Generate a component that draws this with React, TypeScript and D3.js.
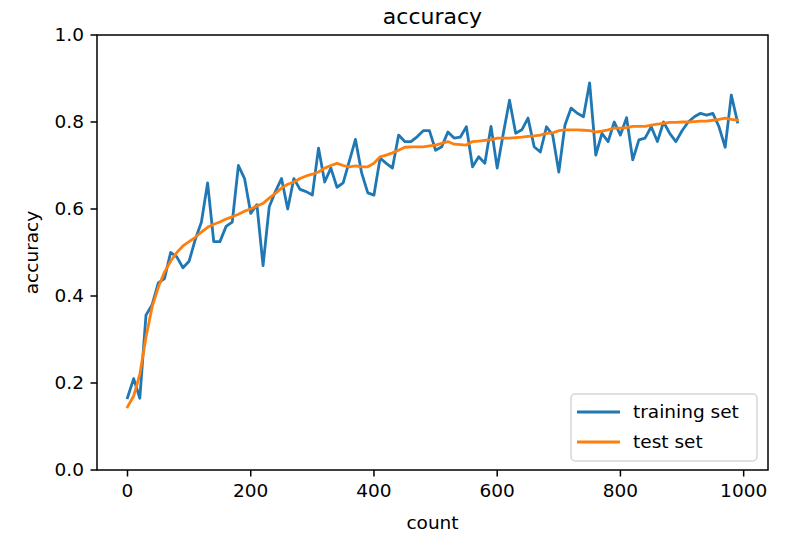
import React from "react";
import * as d3 from "d3";

const counts: number[] = d3.range(0, 1000, 10);

const trainingSet: number[] = [
  0.166, 0.21, 0.165, 0.356, 0.38, 0.43, 0.44, 0.5, 0.49, 0.465,
  0.48, 0.53, 0.57, 0.66, 0.525, 0.525, 0.56, 0.57, 0.7, 0.67,
  0.59, 0.61, 0.47, 0.605, 0.64, 0.67, 0.6, 0.67, 0.645, 0.64,
  0.632, 0.74, 0.662, 0.694, 0.65, 0.66, 0.71, 0.76, 0.683, 0.637,
  0.632, 0.717, 0.705, 0.694, 0.77, 0.755, 0.755, 0.766, 0.78, 0.78,
  0.735, 0.743, 0.777, 0.763, 0.765, 0.789, 0.697, 0.72, 0.705, 0.79,
  0.694, 0.774, 0.85, 0.774, 0.782, 0.809, 0.743, 0.731, 0.789, 0.77,
  0.685, 0.793, 0.832, 0.82, 0.812, 0.89, 0.724, 0.774, 0.755, 0.8,
  0.77, 0.81, 0.713, 0.759, 0.763, 0.789, 0.755, 0.8, 0.774, 0.755,
  0.78, 0.8, 0.812, 0.82, 0.816, 0.82, 0.789, 0.742, 0.862, 0.8,
];

const testSet: number[] = [
  0.145, 0.17, 0.22, 0.305, 0.375, 0.42, 0.455, 0.48, 0.5, 0.515,
  0.525, 0.535, 0.547, 0.558, 0.565, 0.57, 0.577, 0.582, 0.588, 0.595,
  0.6, 0.607, 0.613, 0.625, 0.636, 0.648, 0.657, 0.662, 0.67, 0.676,
  0.68, 0.685, 0.694, 0.7, 0.705, 0.7, 0.697, 0.699, 0.697, 0.697,
  0.705, 0.72, 0.724, 0.729, 0.735, 0.742, 0.743, 0.743, 0.743, 0.745,
  0.747, 0.751, 0.755, 0.749, 0.748, 0.747, 0.755, 0.756, 0.758, 0.759,
  0.763, 0.763, 0.763, 0.764, 0.765, 0.767, 0.768, 0.77, 0.774, 0.775,
  0.78, 0.782, 0.782, 0.782, 0.781, 0.78, 0.777, 0.779, 0.782, 0.786,
  0.786, 0.787, 0.79, 0.79, 0.79, 0.793, 0.795, 0.797, 0.799, 0.799,
  0.8, 0.8, 0.801, 0.802, 0.802, 0.804, 0.806, 0.809, 0.806, 0.804,
];

const xTicks: number[] = [0, 200, 400, 600, 800, 1000];
const yTicks: number[] = [0.0, 0.2, 0.4, 0.6, 0.8, 1.0];
const seriesNames: string[] = ["training set", "test set"];
const seriesColors: string[] = ["#1f77b4", "#ff7f0e"];

const W = 804;
const H = 544;
const left = 97;
const right = 768;
const top = 35;
const bottom = 470;
const FONT = "'DejaVu Sans', sans-serif";
const FS = 18.5;

export default function App() {
  const x = d3.scaleLinear().domain([-49.5, 1039.5]).range([left, right]);
  const y = d3.scaleLinear().domain([0, 1]).range([bottom, top]);
  const line = d3
    .line<number>()
    .x((_, i) => x(counts[i]))
    .y((d) => y(d));
  const series = [trainingSet, testSet];

  const lgX = 571;
  const lgY = 394;
  const lgW = 186;
  const lgH = 67;

  return (
    <svg
      width={W}
      height={H}
      style={{ position: "absolute", left: 0, top: 0, background: "#fff" }}
      fontFamily={FONT}
    >
      <rect x={0} y={0} width={W} height={H} fill="#fff" />
      {series.map((s, k) => (
        <path
          key={k}
          d={line(s) || ""}
          fill="none"
          stroke={seriesColors[k]}
          strokeWidth={2.8}
          strokeLinejoin="round"
          strokeLinecap="square"
        />
      ))}
      <rect
        x={left}
        y={top}
        width={right - left}
        height={bottom - top}
        fill="none"
        stroke="#000"
        strokeWidth={1.5}
      />
      {xTicks.map((t) => (
        <g key={"x" + t}>
          <line x1={x(t)} x2={x(t)} y1={bottom} y2={bottom + 6.5} stroke="#000" strokeWidth={1.5} />
          <text x={x(t)} y={bottom + 13} dy="0.76em" textAnchor="middle" fontSize={FS} fill="#000">
            {t}
          </text>
        </g>
      ))}
      {yTicks.map((t) => (
        <g key={"y" + t}>
          <line x1={left - 6.5} x2={left} y1={y(t)} y2={y(t)} stroke="#000" strokeWidth={1.5} />
          <text x={left - 13} y={y(t)} dy="0.35em" textAnchor="end" fontSize={FS} fill="#000">
            {t.toFixed(1)}
          </text>
        </g>
      ))}
      <text x={(left + right) / 2} y={24} textAnchor="middle" fontSize={22} fill="#000">
        accuracy
      </text>
      <text x={(left + right) / 2} y={529} textAnchor="middle" fontSize={FS} fill="#000">
        count
      </text>
      <text
        transform={`translate(38,${(top + bottom) / 2}) rotate(-90)`}
        textAnchor="middle"
        fontSize={FS}
        fill="#000"
      >
        accuracy
      </text>
      <rect
        x={lgX}
        y={lgY}
        width={lgW}
        height={lgH}
        rx={4}
        fill="#fff"
        fillOpacity={0.8}
        stroke="#cccccc"
        strokeOpacity={0.8}
        strokeWidth={1.5}
      />
      {seriesNames.map((n, k) => (
        <g key={n}>
          <line
            x1={lgX + 6}
            x2={lgX + 49}
            y1={lgY + 18 + k * 30}
            y2={lgY + 18 + k * 30}
            stroke={seriesColors[k]}
            strokeWidth={2.8}
          />
          <text x={lgX + 62} y={lgY + 18 + k * 30} dy="0.35em" fontSize={FS} fill="#000">
            {n}
          </text>
        </g>
      ))}
    </svg>
  );
}
